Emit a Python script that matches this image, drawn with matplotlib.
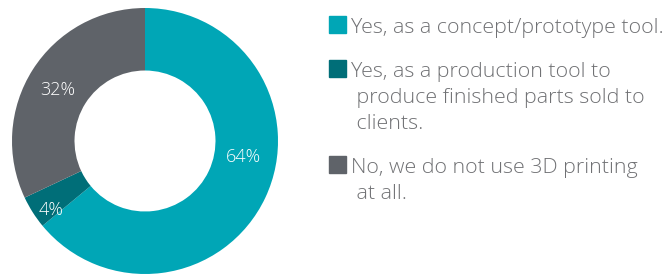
import matplotlib
matplotlib.use("Agg")
import matplotlib.pyplot as plt
from matplotlib.patches import Rectangle

categories = [
    "Yes, as a concept/prototype tool.",
    "Yes, as a production tool to\n produce finished parts sold to\n clients.",
    "No, we do not use 3D printing\n at all.",
]
values = [64, 4, 32]
value_labels = ["64%", "4%", "32%"]
colors = ["#00A6B6", "#006E78", "#5F6369"]

plt.rcParams['font.family'] = ['Open Sans', 'DejaVu Sans']

fig = plt.figure(figsize=(6.65, 2.8), dpi=100)
W, H = 665, 280
cx, cy, r = 145, 141, 133
ax = fig.add_axes([(cx - r) / W, (H - cy - r) / H, 2 * r / W, 2 * r / H])
wedges, _ = ax.pie(values, colors=colors, startangle=90, counterclock=False,
                   radius=1.0, wedgeprops=dict(width=0.47, linewidth=0))
ax.set_xlim(-1, 1)
ax.set_ylim(-1, 1)
ax.set_aspect('equal')
ax.axis('off')

label_pos = [(0.74, -0.12), (-0.71, -0.52), (-0.66, 0.38)]
for (x, y), t in zip(label_pos, value_labels):
    ax.text(x, y, t, color='white', fontsize=13, ha='center', va='center',
            fontweight='light')

# legend
line_h = 26
baselines = [33, 77, 173]
for base, lab, c in zip(baselines, categories, colors):
    fig.patches.append(Rectangle((329 / W, 1 - (base) / H), 17 / W, 17 / H,
                                 transform=fig.transFigure, color=c, figure=fig))
    for i, line in enumerate(lab.split("\n")):
        fig.text(351 / W, 1 - (base + i * line_h) / H, line, fontsize=15.4,
                 color='#707174', ha='left', va='baseline', fontweight='light')

fig.savefig("out.png", dpi=100)
